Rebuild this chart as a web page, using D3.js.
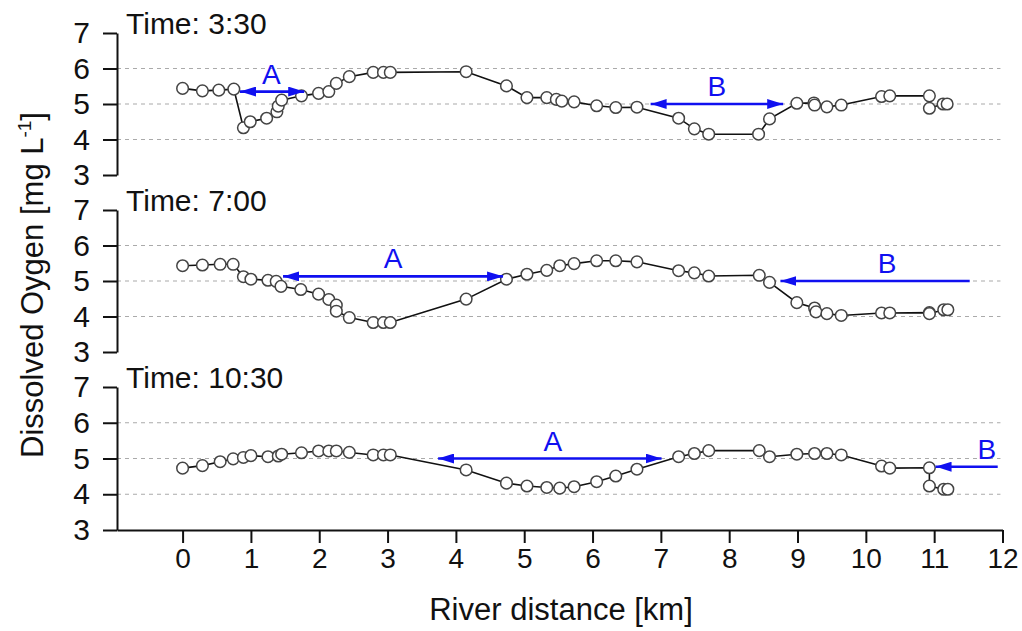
<!DOCTYPE html>
<html>
<head>
<meta charset="utf-8">
<script src="https://cdn.jsdelivr.net/npm/d3@7"></script>
<style>
  body { margin: 0; background: #fff; }
  text { font-family: 'Liberation Sans', Arial, sans-serif; fill: #111; }
</style>
</head>
<body>
<svg id="chart" width="1022" height="631"></svg>
<script>
// river distance [km] and dissolved oxygen [mg/L] per survey time
const km_0330 = [0, 0.29, 0.53, 0.75, 0.89, 0.99, 1.23, 1.38, 1.40, 1.45, 1.74, 1.99, 2.14, 2.25, 2.44, 2.79, 2.94, 3.04,
  4.15, 4.74, 5.04, 5.33, 5.47, 5.55, 5.73, 6.06, 6.34, 6.65, 7.26, 7.49, 7.70, 8.43, 8.59, 8.99, 9.24, 9.25, 9.43, 9.64,
  10.23, 10.35, 10.93, 10.93, 11.13, 11.19];
const do_0330 = [5.44, 5.37, 5.39, 5.42, 4.33, 4.50, 4.60, 4.78, 4.94, 5.11, 5.23, 5.30, 5.35, 5.58, 5.77, 5.89, 5.89, 5.89,
  5.91, 5.51, 5.18, 5.18, 5.13, 5.08, 5.06, 4.95, 4.90, 4.91, 4.60, 4.30, 4.15, 4.15, 4.58, 5.02, 5.03, 4.97, 4.92, 4.97,
  5.21, 5.23, 5.23, 4.88, 5.00, 5.00];

const km_0700 = [0, 0.29, 0.55, 0.74, 0.89, 1.00, 1.25, 1.37, 1.44, 1.73, 1.99, 2.14, 2.25, 2.25, 2.44, 2.79, 2.94, 3.04,
  4.15, 4.74, 5.04, 5.33, 5.52, 5.73, 6.06, 6.34, 6.65, 7.26, 7.49, 7.70, 8.44, 8.59, 8.99, 9.25, 9.27, 9.43, 9.64,
  10.23, 10.35, 10.93, 10.93, 11.14, 11.20];
const do_0700 = [5.43, 5.45, 5.47, 5.47, 5.12, 5.05, 5.02, 4.99, 4.85, 4.76, 4.63, 4.48, 4.32, 4.15, 3.97, 3.83, 3.83, 3.83,
  4.49, 5.05, 5.19, 5.30, 5.43, 5.49, 5.57, 5.57, 5.54, 5.29, 5.23, 5.14, 5.16, 4.96, 4.39, 4.24, 4.13, 4.08, 4.03,
  4.10, 4.10, 4.11, 4.08, 4.19, 4.19];

const km_1030 = [0, 0.29, 0.55, 0.74, 0.89, 1.00, 1.25, 1.40, 1.45, 1.74, 1.99, 2.14, 2.25, 2.44, 2.79, 2.94, 3.04,
  4.15, 4.74, 5.04, 5.33, 5.52, 5.73, 6.06, 6.34, 6.65, 7.26, 7.49, 7.70, 8.44, 8.59, 8.99, 9.25, 9.43, 9.64,
  10.23, 10.35, 10.93, 10.93, 11.14, 11.20];
const do_1030 = [4.73, 4.80, 4.91, 4.99, 5.03, 5.08, 5.05, 5.07, 5.12, 5.16, 5.21, 5.21, 5.21, 5.17, 5.10, 5.10, 5.10,
  4.68, 4.31, 4.23, 4.19, 4.17, 4.21, 4.35, 4.51, 4.70, 5.05, 5.14, 5.22, 5.22, 5.05, 5.12, 5.14, 5.14, 5.10,
  4.79, 4.73, 4.74, 4.23, 4.14, 4.14];

const times = ['Time: 3:30', 'Time: 7:00', 'Time: 10:30'];
const y_ticks = [3, 4, 5, 6, 7];
const grid_vals = [4, 5, 6];
const x_ticks = d3.range(0, 13);

// annotation arrows: [from km, to km, DO level, label, label km, double-headed]
const arrows_0330 = [[1.78, 0.84, 5.35, 'A', 1.30, true], [8.79, 6.85, 5.0, 'B', 7.82, true]];
const arrows_0700 = [[4.69, 1.47, 5.13, 'A', 3.08, true], [11.52, 8.75, 5.0, 'B', 10.31, false]];
const arrows_1030 = [[7.01, 3.74, 5.0, 'A', 5.42, true], [11.93, 11.02, 4.77, 'B', 11.77, false]];

const panels = [
  { title: times[0], km: km_0330, val: do_0330, arrows: arrows_0330, range: [175, 33] },
  { title: times[1], km: km_0700, val: do_0700, arrows: arrows_0700, range: [352, 210] },
  { title: times[2], km: km_1030, val: do_1030, arrows: arrows_1030, range: [530, 387] },
];

const svg = d3.select('#chart');
const x = d3.scaleLinear().domain([-0.96, 12]).range([117, 1002.5]);
const blue = '#1010f0';

svg.append('defs').append('marker')
  .attr('id', 'head')
  .attr('viewBox', '0 0 16 10')
  .attr('refX', 16).attr('refY', 5)
  .attr('markerWidth', 16).attr('markerHeight', 10)
  .attr('markerUnits', 'userSpaceOnUse')
  .attr('orient', 'auto-start-reverse')
  .append('path')
  .attr('d', 'M0,0L16,5L0,10Z')
  .attr('fill', blue);

panels.forEach((p, i) => {
  const y = d3.scaleLinear().domain([3, 7]).range(p.range);
  const g = svg.append('g');

  g.selectAll('.grid')
    .data(grid_vals)
    .enter()
    .append('line')
    .attr('x1', x(-0.96)).attr('x2', x(11.97))
    .attr('y1', d => y(d)).attr('y2', d => y(d))
    .attr('stroke', '#aaa')
    .attr('stroke-width', 1.2)
    .attr('stroke-dasharray', '4,4');

  const yAxis = g.append('g')
    .attr('transform', `translate(${x(-0.96)},0)`)
    .call(d3.axisLeft(y).tickValues(y_ticks).tickFormat(d3.format('d'))
      .tickSize(14).tickPadding(13).tickSizeOuter(0));
  yAxis.select('.domain').attr('stroke', '#111').attr('stroke-width', 2);
  yAxis.selectAll('.tick line').attr('stroke', '#111').attr('stroke-width', 2);
  yAxis.selectAll('.tick text')
    .attr('font-size', 30)
    .attr('font-family', null)
    .attr('fill', '#111');

  if (i === 2) {
    const xAxis = g.append('g')
      .attr('transform', `translate(0,${y(3)})`)
      .call(d3.axisBottom(x).tickValues(x_ticks).tickSize(13).tickPadding(5).tickSizeOuter(0));
    xAxis.select('.domain').attr('stroke', '#111').attr('stroke-width', 2);
    xAxis.selectAll('.tick line').attr('stroke', '#111').attr('stroke-width', 2);
    xAxis.selectAll('.tick text')
      .attr('font-size', 28)
      .attr('font-family', null)
      .attr('fill', '#111');
  }

  const pts = p.km.map((k, j) => [k, p.val[j]]);
  g.append('path')
    .datum(pts)
    .attr('fill', 'none')
    .attr('stroke', '#111')
    .attr('stroke-width', 1.6)
    .attr('d', d3.line().x(d => x(d[0])).y(d => y(d[1])));

  g.selectAll('.pt')
    .data(pts)
    .enter()
    .append('circle')
    .attr('cx', d => x(d[0]))
    .attr('cy', d => y(d[1]))
    .attr('r', 5.8)
    .attr('fill', '#fff')
    .attr('stroke', '#444')
    .attr('stroke-width', 1.5);

  p.arrows.forEach((a) => {
    g.append('line')
      .attr('x1', x(a[0])).attr('x2', x(a[1]))
      .attr('y1', y(a[2])).attr('y2', y(a[2]))
      .attr('stroke', blue)
      .attr('stroke-width', 2.6)
      .attr('marker-end', 'url(#head)')
      .attr('marker-start', a[5] ? 'url(#head)' : null);
    g.append('text')
      .attr('x', x(a[4]))
      .attr('y', y(a[2]) - 8)
      .attr('text-anchor', 'middle')
      .attr('font-size', 28)
      .style('fill', blue)
      .text(a[3]);
  });

  g.append('text')
    .attr('x', 126)
    .attr('y', p.range[1] + 1)
    .attr('font-size', 30)
    .text(p.title);
});

const yl = svg.append('text')
  .attr('transform', 'translate(43,285) rotate(-90)')
  .attr('text-anchor', 'middle')
  .attr('font-size', 31);
yl.append('tspan').text('Dissolved Oygen [mg L');
yl.append('tspan').attr('dy', -12).attr('font-size', 19).text('-1');
yl.append('tspan').attr('dy', 12).text(']');

svg.append('text')
  .attr('x', 561)
  .attr('y', 620)
  .attr('text-anchor', 'middle')
  .attr('font-size', 31)
  .text('River distance [km]');
</script>
</body>
</html>
